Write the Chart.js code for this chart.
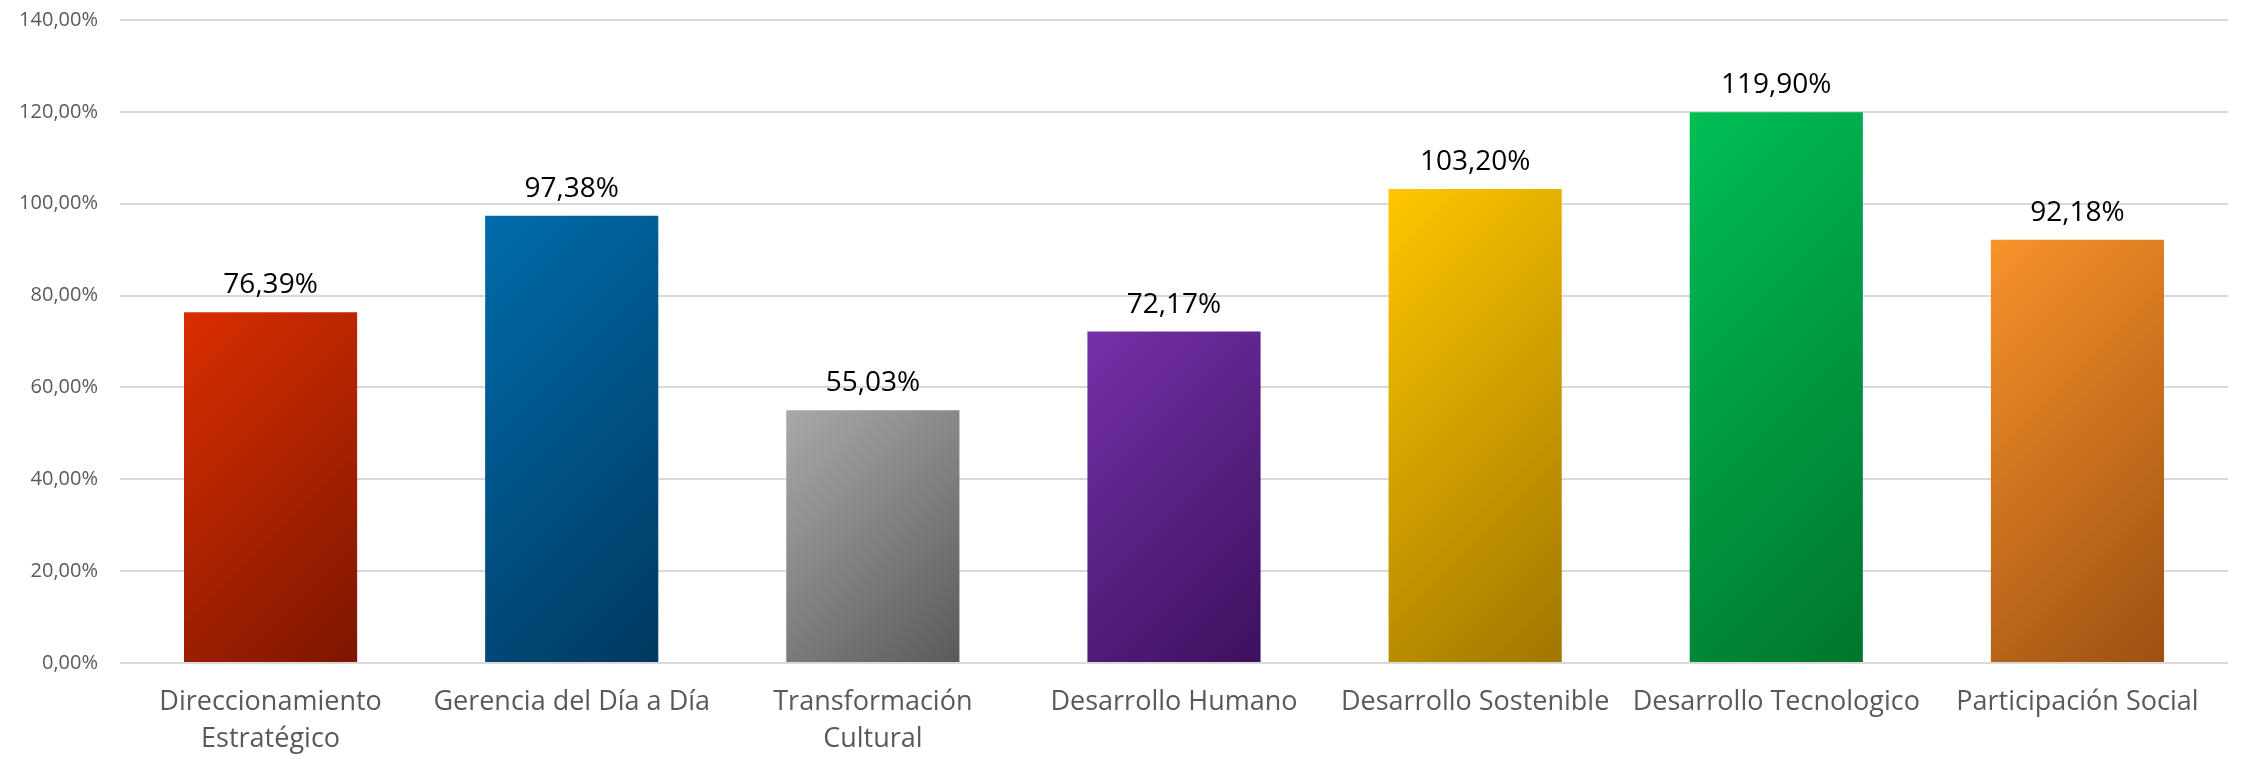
<!DOCTYPE html>
<html>
<head>
<meta charset="utf-8">
<script src="https://cdn.jsdelivr.net/npm/chart.js@4.4.1/dist/chart.umd.min.js"></script>
<style>
  html, body { margin: 0; padding: 0; background: #fff; }
  #wrap { width: 2244px; height: 759px; }
</style>
</head>
<body>
<div id="wrap"><canvas id="chart"></canvas></div>
<script>
// data
const categories = [
    ['Direccionamiento', 'Estratégico'],
    'Gerencia del Día a Día',
    ['Transformación', 'Cultural'],
    'Desarrollo Humano',
    'Desarrollo Sostenible',
    'Desarrollo Tecnologico',
    'Participación Social'
];
const values = [0.7639, 0.9738, 0.5503, 0.7217, 1.0320, 1.1990, 0.9218];
const yTicks = [0, 0.2, 0.4, 0.6, 0.8, 1.0, 1.2, 1.4];

// gradient stops per bar (top-left -> bottom-right)
const lightColors = ['#DA2E00', '#006CAB', '#A9A9A9', '#7431A8', '#FFC700', '#00BF55', '#F9932A'];
const darkColors  = ['#7C1600', '#003960', '#5A5A5A', '#3C105E', '#A07600', '#00752E', '#9C5012'];

function pct(v) {
    return (v * 100).toFixed(2).replace('.', ',') + '%';
}

// 45 degree gradient over the bar box
function barFill(ctx) {
    const chart = ctx.chart;
    const i = ctx.dataIndex;
    const xs = chart.scales.x, ys = chart.scales.y;
    if (!chart.chartArea || !xs || !ys || i === undefined) return lightColors[i] || '#999';
    const cx = xs.getPixelForValue(i);
    const w = (xs.width / categories.length) * 0.575;
    const left = cx - w / 2;
    const top = ys.getPixelForValue(values[i]);
    const h = ys.getPixelForValue(0) - top;
    const d = (w + h) / 2;
    const g = chart.ctx.createLinearGradient(left, top, left + d, top + d);
    g.addColorStop(0, lightColors[i]);
    g.addColorStop(1, darkColors[i]);
    return g;
}

const valueLabels = {
    id: 'valueLabels',
    afterDatasetsDraw(chart) {
        const c = chart.ctx;
        const meta = chart.getDatasetMeta(0);
        c.save();
        c.font = '28px "Open Sans"';
        c.fillStyle = '#000';
        c.textAlign = 'center';
        c.textBaseline = 'alphabetic';
        meta.data.forEach((bar, i) => {
            c.fillText(pct(values[i]), bar.x, bar.y - 19);
        });
        c.restore();
    }
};

new Chart(document.getElementById('chart'), {
    type: 'bar',
    data: {
        labels: categories,
        datasets: [{
            data: values,
            backgroundColor: barFill,
            borderWidth: 0,
            categoryPercentage: 1,
            barPercentage: 0.575
        }]
    },
    options: {
        responsive: true,
        maintainAspectRatio: false,
        animation: false,
        devicePixelRatio: 1,
        layout: { padding: { top: 20, right: 16, left: 0, bottom: 0 } },
        plugins: {
            legend: { display: false },
            tooltip: { enabled: false }
        },
        scales: {
            x: {
                grid: { display: false, drawTicks: false },
                border: { display: false },
                ticks: {
                    color: '#595959',
                    font: { family: 'Open Sans', size: 27, lineHeight: 1.4 },
                    padding: 20,
                    maxRotation: 0,
                    autoSkip: false
                },
                afterFit(scale) {
                    scale.height = 96;
                    scale.paddingLeft = 0;
                    scale.paddingRight = 0;
                }
            },
            y: {
                min: 0,
                max: 1.4,
                afterBuildTicks(scale) { scale.ticks = yTicks.map(v => ({ value: v })); },
                grid: { color: '#D9D9D9', lineWidth: 2, drawTicks: false },
                border: { display: false },
                ticks: {
                    color: '#595959',
                    font: { family: 'Open Sans', size: 20 },
                    padding: 22,
                    callback: v => pct(v)
                },
                afterFit(scale) {
                    scale.width = 120;
                    scale.paddingTop = 0;
                    scale.paddingBottom = 0;
                }
            }
        }
    },
    plugins: [valueLabels]
});
</script>
</body>
</html>
